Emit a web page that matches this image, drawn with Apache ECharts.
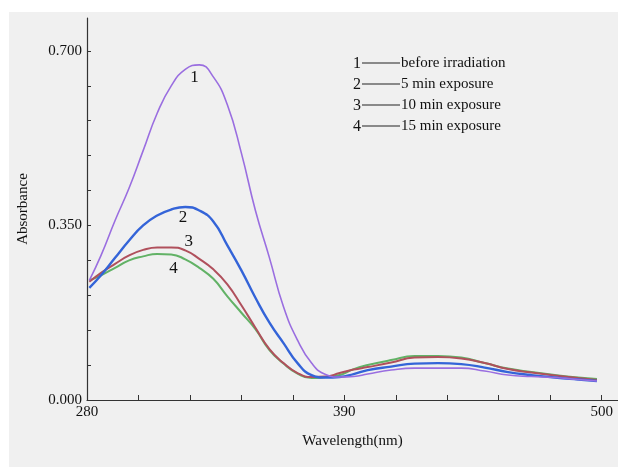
<!DOCTYPE html>
<html>
<head>
<meta charset="utf-8">
<script src="https://cdn.jsdelivr.net/npm/echarts@6/dist/echarts.min.js"></script>
<style>
  html, body { margin: 0; padding: 0; background: #fff; }
  #paper { position: absolute; left: 9px; top: 12px; width: 609px; height: 455px; background: #f0f0f0; }
  #chart { position: absolute; left: 0; top: 0; width: 618px; height: 467px; }
</style>
</head>
<body>
<div id="paper"></div>
<div id="chart"></div>
<script>
  // wavelength (nm)
  const wavelength = [281, 286, 292, 298, 304, 310, 316, 322, 328, 334, 340, 346, 352, 358, 364, 370,
    376, 382, 388, 394, 400, 410, 420, 430, 440, 450, 460, 470, 480, 490, 498];
  // absorbance
  const before = [0.240, 0.290, 0.360, 0.425, 0.500, 0.575, 0.630, 0.663, 0.672, 0.648, 0.592, 0.495, 0.380, 0.285, 0.187, 0.120,
    0.074, 0.051, 0.046, 0.047, 0.052, 0.060, 0.064, 0.064, 0.064, 0.058, 0.050, 0.047, 0.045, 0.041, 0.038];
  const min5 = [0.225, 0.250, 0.285, 0.320, 0.350, 0.370, 0.382, 0.387, 0.380, 0.358, 0.310, 0.260, 0.205, 0.155, 0.114, 0.074,
    0.050, 0.045, 0.046, 0.052, 0.060, 0.067, 0.073, 0.074, 0.072, 0.065, 0.056, 0.050, 0.045, 0.041, 0.038];
  const min10 = [0.237, 0.255, 0.273, 0.290, 0.301, 0.306, 0.306, 0.300, 0.283, 0.262, 0.232, 0.190, 0.145, 0.102, 0.074, 0.054,
    0.046, 0.047, 0.054, 0.061, 0.066, 0.075, 0.085, 0.086, 0.083, 0.074, 0.062, 0.055, 0.049, 0.044, 0.040];
  const min15 = [0.240, 0.250, 0.265, 0.280, 0.288, 0.293, 0.292, 0.282, 0.265, 0.243, 0.208, 0.175, 0.142, 0.100, 0.073, 0.053,
    0.044, 0.046, 0.050, 0.062, 0.070, 0.080, 0.088, 0.088, 0.085, 0.074, 0.063, 0.056, 0.050, 0.045, 0.042];

  const seriesNames = ['before irradiation', '5 min exposure', '10 min exposure', '15 min exposure'];
  const curveNo = ['1', '2', '3', '4'];
  const curveLabelAt = [[326, 0.646], [321, 0.365], [323.5, 0.317], [317, 0.263]];

  const xTicks = [280, 302, 324, 346, 368, 390, 412, 434, 456, 478, 500];
  const xLabels = [280, 390, 500];
  const yTicks = [0, 0.07, 0.14, 0.21, 0.28, 0.35, 0.42, 0.49, 0.56, 0.63, 0.70];
  const yLabels = [0, 0.35, 0.70];

  const colors = ['#9a6ee0', '#3464d8', '#b0505c', '#62b266'];
  const widths = [1.6, 2.4, 2, 2];

  const font = 'Liberation Serif';
  const chart = echarts.init(document.getElementById('chart'));

  const all = [before, min5, min10, min15];
  const series = all.map((vals, i) => ({
    name: seriesNames[i],
    type: 'line',
    smooth: 0.5,
    showSymbol: false,
    data: wavelength.map((w, k) => [w, vals[k]]),
    lineStyle: { color: colors[i], width: widths[i] },
    itemStyle: { color: colors[i] },
    z: 10 - i,
    markPoint: {
      symbol: 'circle',
      symbolSize: 0,
      label: {
        show: true,
        formatter: curveNo[i],
        color: '#111',
        fontFamily: font,
        fontSize: 17,
      },
      data: [{ coord: curveLabelAt[i] }],
    },
  }));

  // hand-made key: number, black dash, description
  const legendY = [63, 84, 105, 126];
  const legendGraphic = [];
  legendY.forEach((y, i) => {
    legendGraphic.push({
      type: 'text', left: 353, top: y - 7,
      style: { text: curveNo[i], font: '16px "Liberation Serif"', fill: '#111' },
    });
    legendGraphic.push({
      type: 'line', shape: { x1: 362, y1: y, x2: 400, y2: y },
      style: { stroke: '#222', lineWidth: 1 },
    });
    legendGraphic.push({
      type: 'text', left: 401, top: y - 7,
      style: { text: seriesNames[i], font: '15px "Liberation Serif"', fill: '#111' },
    });
  });

  chart.setOption({
    animation: false,
    grid: { left: 87, right: 0, top: 18, bottom: 67 },
    xAxis: {
      type: 'value',
      min: 280,
      max: 507,
      name: 'Wavelength(nm)',
      nameLocation: 'middle',
      nameGap: 34,
      nameTextStyle: { fontFamily: font, fontSize: 15, color: '#111' },
      axisLine: { lineStyle: { color: '#333', width: 1.2 } },
      axisTick: { inside: true, length: 5, customValues: xTicks, lineStyle: { color: '#333' } },
      axisLabel: { customValues: xLabels, fontFamily: font, fontSize: 15, color: '#111', margin: 5 },
      splitLine: { show: false },
    },
    yAxis: {
      type: 'value',
      min: 0,
      max: 0.766,
      name: 'Absorbance',
      nameLocation: 'middle',
      nameGap: 56,
      nameTextStyle: { fontFamily: font, fontSize: 15, color: '#111' },
      axisLine: { show: true, lineStyle: { color: '#333', width: 1.2 } },
      axisTick: { show: true, inside: true, length: 4, customValues: yTicks, lineStyle: { color: '#333' } },
      axisLabel: {
        customValues: yLabels,
        formatter: (v) => v.toFixed(3),
        fontFamily: font, fontSize: 15, color: '#111', margin: 5,
      },
      splitLine: { show: false },
    },
    graphic: legendGraphic,
    series: series,
  });
</script>
</body>
</html>
